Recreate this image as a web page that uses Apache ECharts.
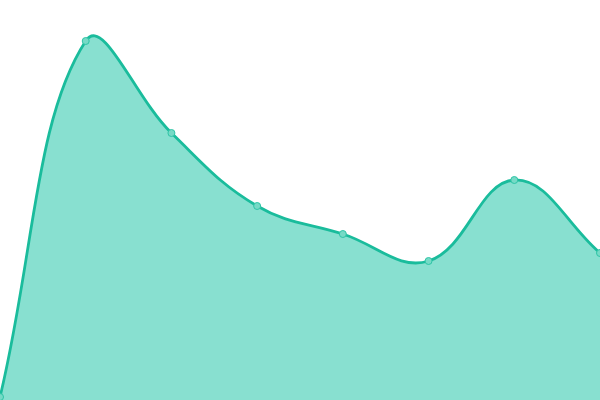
<!DOCTYPE html>
<html><head><meta charset="utf-8">
<script src="https://cdn.jsdelivr.net/npm/echarts@6/dist/echarts.min.js"></script>
<style>html,body{margin:0;padding:0;background:#fff}#c{width:600px;height:400px}</style>
</head><body><div id="c"></div>
<script>
var categories = ['A','B','C','D','E','F','G','H'];
var values = [3, 359, 267, 194, 166, 139, 220, 147];
var tension = 0.4;
var chart = echarts.init(document.getElementById('c'));

function splinePath(pts, closeY) {
  var n = pts.length, cps = [];
  for (var i = 0; i < n; i++) {
    var p = pts[i], prev = pts[Math.max(0, i - 1)], next = pts[Math.min(n - 1, i + 1)];
    var d01 = Math.hypot(p[0] - prev[0], p[1] - prev[1]);
    var d12 = Math.hypot(next[0] - p[0], next[1] - p[1]);
    var s01 = d01 + d12 > 0 ? d01 / (d01 + d12) : 0;
    var s12 = d01 + d12 > 0 ? d12 / (d01 + d12) : 0;
    var fa = tension * s01, fb = tension * s12;
    cps.push({
      px: p[0] - fa * (next[0] - prev[0]), py: p[1] - fa * (next[1] - prev[1]),
      nx: p[0] + fb * (next[0] - prev[0]), ny: p[1] + fb * (next[1] - prev[1])
    });
  }
  var d = 'M' + pts[0][0] + ' ' + pts[0][1];
  for (var j = 1; j < n; j++) {
    d += ' C' + cps[j - 1].nx + ' ' + cps[j - 1].ny + ' ' + cps[j].px + ' ' + cps[j].py + ' ' + pts[j][0] + ' ' + pts[j][1];
  }
  if (closeY != null) {
    d += ' L' + pts[n - 1][0] + ' ' + closeY + ' L' + pts[0][0] + ' ' + closeY + ' Z';
  }
  return d;
}

chart.setOption({
  animation: false,
  grid: {left: 0, right: 0, top: 0, bottom: 0},
  xAxis: {type: 'category', data: categories, boundaryGap: false, show: false},
  yAxis: {type: 'value', min: 0, max: 400, show: false},
  series: [{
    type: 'custom',
    data: values.map(function (v, i) { return [i, v]; }),
    renderItem: function (params, api) {
      if (params.dataIndex !== 0) return null;
      var pts = values.map(function (v, i) { return api.coord([i, v]); });
      var base = api.coord([0, 0])[1];
      return {
        type: 'group',
        children: [
          {type: 'path', shape: {pathData: splinePath(pts, base)}, style: {fill: '#88e0d0', stroke: null}},
          {type: 'path', shape: {pathData: splinePath(pts, null)}, style: {fill: null, stroke: '#1abc9c', lineWidth: 2.8}}
        ]
      };
    }
  }, {
    type: 'line',
    data: values,
    symbol: 'circle',
    symbolSize: 7,
    lineStyle: {opacity: 0},
    itemStyle: {color: '#76dac6', borderColor: '#2ec4a6', borderWidth: 1},
    z: 5
  }]
});
</script></body></html>
